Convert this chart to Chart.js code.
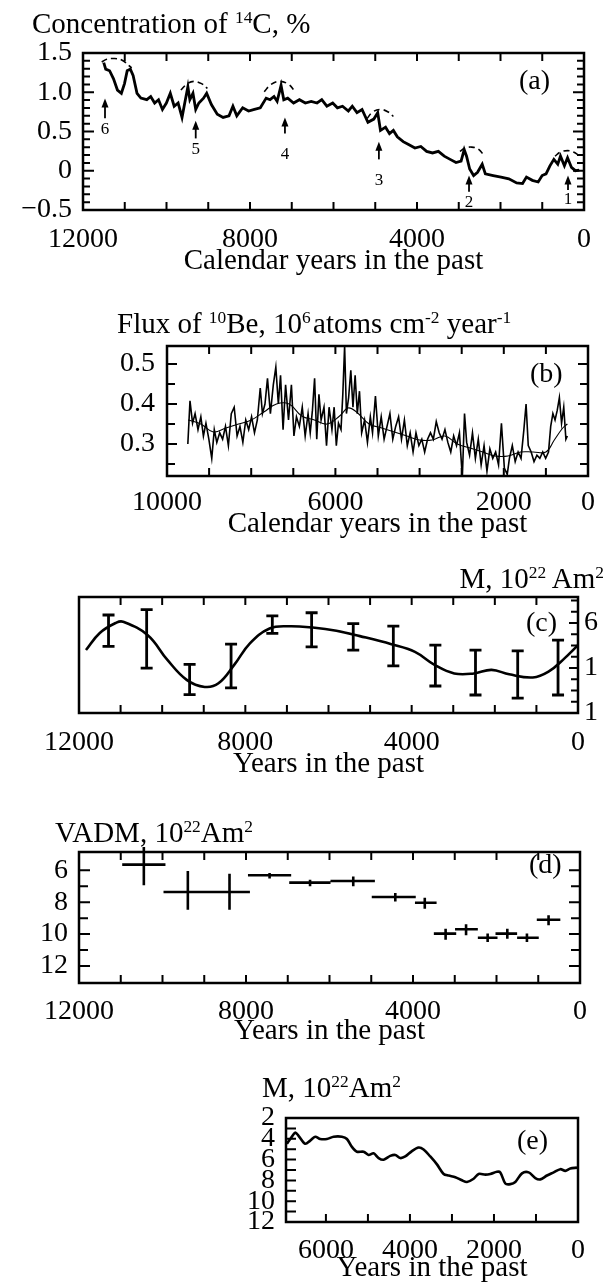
<!DOCTYPE html>
<html>
<head>
<meta charset="utf-8">
<title>14C, 10Be and geomagnetic moment</title>
<script src="https://cdn.jsdelivr.net/npm/chart.js@4.4.1/dist/chart.umd.min.js"></script>
<style>
  html, body { margin: 0; padding: 0; background: #fff; }
  body { position: relative; width: 614px; height: 1284px; overflow: hidden;
         font-family: "Liberation Serif", "Times New Roman", serif; color: #000; }
  canvas { position: absolute; left: 0; }
  .lbl { position: absolute; font-size: 28px; line-height: 1; white-space: nowrap; z-index: 2; }
  .ttl { font-size: 29px; }
  .lbl sup { font-size: 0.6em; line-height: 0; position: relative; top: -0.55em; vertical-align: baseline; }
</style>
</head>
<body>
<div class="lbl ttl" style="left:32px;top:9px">Concentration of <sup>14</sup>C, %</div>
<div class="lbl" style="left:519px;top:66px">(a)</div>
<div class="lbl ttl" style="left:117px;top:309px">Flux of <sup>10</sup>Be, 10<sup>6</sup>&#8202;atoms cm<sup>-2</sup> year<sup>-1</sup></div>
<div class="lbl" style="left:530px;top:359px">(b)</div>
<div class="lbl ttl" style="right:10px;top:564px">M, 10<sup>22</sup> Am<sup>2</sup></div>
<div class="lbl" style="left:526px;top:608px">(c)</div>
<div class="lbl ttl" style="left:55px;top:818px">VADM, 10<sup>22</sup>Am<sup>2</sup></div>
<div class="lbl" style="left:529px;top:850px">(d)</div>
<div class="lbl ttl" style="left:262px;top:1073px">M, 10<sup>22</sup>Am<sup>2</sup></div>
<div class="lbl" style="left:517px;top:1126px">(e)</div>

<canvas id="chartA" width="614" height="258" style="top:28px"></canvas>
<canvas id="chartB" width="614" height="220" style="top:320px"></canvas>
<canvas id="chartC" width="614" height="210" style="top:575px"></canvas>
<canvas id="chartD" width="614" height="225" style="top:825px"></canvas>
<canvas id="chartE" width="614" height="191" style="top:1093px"></canvas>

<script>
// (a) 14C concentration, %
const aYears = [11503, 11456, 11363, 11269, 11175, 11081, 11006, 10941, 10866, 10800, 10706, 10613, 10472, 10378,
  10284, 10191, 10097, 10003, 9909, 9816, 9722, 9628, 9563, 9488, 9441, 9366, 9300, 9225, 9113, 9038, 8925, 8784,
  8644, 8503, 8409, 8316, 8175, 8034, 7894, 7753, 7613, 7519, 7425, 7350, 7256, 7191, 7097, 6956, 6816, 6675, 6534,
  6394, 6281, 6159, 6019, 5906, 5784, 5644, 5550, 5438, 5316, 5175, 5034, 4941, 4875, 4753, 4659, 4566, 4472, 4331,
  4191, 4050, 3909, 3769, 3628, 3488, 3347, 3206, 3066, 2944, 2869, 2813, 2738, 2644, 2550, 2438, 2363, 2175, 1988,
  1800, 1613, 1472, 1378, 1238, 1097, 1003, 909, 816, 722, 628, 563, 469, 394, 300, 206, 113];
const aConc = [1.377, 1.295, 1.274, 1.171, 1.028, 0.987, 1.110, 1.274, 1.295, 1.213, 0.987, 0.925, 0.905, 0.946,
  0.863, 0.905, 0.781, 0.863, 0.987, 0.822, 0.863, 0.679, 0.863, 1.069, 0.905, 0.987, 0.781, 0.863, 0.925, 0.987,
  0.843, 0.720, 0.679, 0.699, 0.822, 0.699, 0.802, 0.761, 0.781, 0.802, 0.925, 0.905, 0.946, 0.884, 1.089, 0.905,
  0.925, 0.863, 0.905, 0.863, 0.884, 0.863, 0.905, 0.822, 0.863, 0.802, 0.822, 0.761, 0.822, 0.740, 0.781, 0.617,
  0.658, 0.740, 0.514, 0.555, 0.473, 0.514, 0.432, 0.371, 0.330, 0.289, 0.309, 0.247, 0.227, 0.247, 0.186, 0.145,
  0.104, 0.124, 0.268, 0.186, 0.022, -0.061, -0.020, 0.083, -0.040, -0.061, -0.081, -0.102, -0.155, -0.163, -0.081,
  -0.122, -0.143, -0.061, -0.040, 0.063, 0.145, 0.083, 0.186, 0.063, 0.165, 0.042, 0.001, 0.009];
// dashed arcs over the peaks 6..1
const aArcYears = [[11552, 11432, 11274, 11073, 10834], [9656, 9500, 9347, 9160, 9019], [7659, 7500, 7284, 7069, 6938],
  [5194, 5063, 4875, 4688, 4566], [2972, 2850, 2691, 2531, 2381], [694, 563, 394, 253, 131]];
const aArcConc = [[1.385, 1.42, 1.43, 1.41, 1.31], [1.028, 1.110, 1.139, 1.110, 1.048], [1.007, 1.098, 1.139, 1.098, 1.020],
  [0.666, 0.748, 0.781, 0.748, 0.691], [0.247, 0.289, 0.301, 0.276, 0.186], [0.186, 0.239, 0.256, 0.239, 0.198]];
// numbered arrows
const aArrowYears = [11473, 9300, 7163, 4913, 2754, 383];
const aArrowBase = [0.67, 0.412, 0.473, 0.145, -0.266, -0.245];
const aArrowTip = [0.92, 0.638, 0.679, 0.371, -0.061, -0.061];
const aArrowLabelAt = [0.52, 0.268, 0.206, -0.122, -0.40, -0.37];
const aArrowLabels = ['6', '5', '4', '3', '2', '1'];
const aXTicks = [12000, 8000, 4000, 0];
const aXText = ['12000', '8000', '4000', '0'];
const aYTicks = [-0.5, 0, 0.5, 1, 1.5];
const aYText = ['\u22120.5', '0', '0.5', '1.0', '1.5'];

// (b) 10Be flux
const bYears = [9505, 9454, 9393, 9333, 9264, 9196, 9135, 9075, 9006, 8937, 8877, 8817, 8748, 8679, 8611, 8542, 8473,
  8404, 8335, 8267, 8198, 8129, 8060, 7991, 7922, 7854, 7785, 7733, 7673, 7613, 7544, 7475, 7415, 7355, 7303, 7243,
  7183, 7114, 7045, 6985, 6925, 6856, 6787, 6718, 6649, 6598, 6546, 6494, 6443, 6391, 6340, 6271, 6211, 6150, 6082,
  6030, 5978, 5927, 5867, 5824, 5781, 5738, 5686, 5634, 5583, 5531, 5480, 5428, 5376, 5307, 5239, 5170, 5118, 5049,
  4981, 4912, 4843, 4774, 4705, 4637, 4568, 4499, 4430, 4361, 4292, 4224, 4155, 4086, 4017, 3948, 3880, 3811, 3742,
  3673, 3604, 3535, 3467, 3398, 3329, 3260, 3191, 3123, 3054, 2985, 2933, 2882, 2813, 2744, 2675, 2606, 2538, 2469,
  2400, 2331, 2262, 2194, 2125, 2056, 1987, 1918, 1867, 1798, 1729, 1660, 1591, 1523, 1471, 1419, 1350, 1282, 1213,
  1144, 1075, 1006, 938, 886, 834, 783, 731, 680, 628, 576, 525, 490];
const bFlux = [0.300, 0.408, 0.352, 0.376, 0.336, 0.368, 0.320, 0.352, 0.312, 0.264, 0.336, 0.304, 0.328, 0.312, 0.344,
  0.296, 0.376, 0.392, 0.320, 0.344, 0.304, 0.360, 0.336, 0.368, 0.328, 0.360, 0.440, 0.376, 0.400, 0.464, 0.376,
  0.448, 0.492, 0.400, 0.472, 0.336, 0.448, 0.360, 0.448, 0.320, 0.368, 0.344, 0.392, 0.320, 0.376, 0.328, 0.384,
  0.464, 0.312, 0.424, 0.360, 0.392, 0.296, 0.392, 0.336, 0.392, 0.296, 0.352, 0.336, 0.424, 0.545, 0.376, 0.416,
  0.484, 0.392, 0.472, 0.376, 0.432, 0.328, 0.360, 0.304, 0.368, 0.328, 0.420, 0.320, 0.368, 0.312, 0.344, 0.376,
  0.312, 0.344, 0.368, 0.312, 0.360, 0.296, 0.328, 0.280, 0.328, 0.296, 0.312, 0.280, 0.312, 0.328, 0.312, 0.356,
  0.328, 0.312, 0.336, 0.304, 0.280, 0.320, 0.296, 0.328, 0.216, 0.376, 0.304, 0.272, 0.328, 0.264, 0.312, 0.248,
  0.296, 0.232, 0.288, 0.264, 0.280, 0.248, 0.352, 0.240, 0.224, 0.264, 0.296, 0.256, 0.280, 0.264, 0.336, 0.400,
  0.296, 0.280, 0.256, 0.272, 0.264, 0.280, 0.264, 0.280, 0.344, 0.376, 0.360, 0.384, 0.416, 0.352, 0.392, 0.312,
  0.320];
const bSmoothYears = [9500, 9200, 8900, 8600, 8300, 8000, 7700, 7400, 7100, 6800, 6500, 6200, 5900, 5700, 5500, 5200,
  4900, 4600, 4300, 4000, 3700, 3400, 3100, 2800, 2500, 2200, 1900, 1600, 1300, 1000, 800, 600, 490];
const bSmoothFlux = [0.36, 0.35, 0.33, 0.34, 0.35, 0.36, 0.38, 0.40, 0.40, 0.37, 0.36, 0.35, 0.37, 0.39, 0.38, 0.35,
  0.34, 0.33, 0.32, 0.31, 0.31, 0.32, 0.30, 0.29, 0.28, 0.27, 0.27, 0.28, 0.28, 0.28, 0.31, 0.34, 0.35];
const bXTicks = [10000, 6000, 2000, 0];
const bXText = ['10000', '6000', '2000', '0'];
const bYTicks = [0.3, 0.4, 0.5];
const bYText = ['0.3', '0.4', '0.5'];

// (c) M, smoothed curve with error bars (right axis units)
const cYears = [11832, 11500, 11100, 10942, 10346, 9874, 9402, 8976, 8646, 8268, 7890, 7417, 6945, 6378, 5811, 5244,
  4488, 3921, 3449, 2976, 2504, 2079, 1654, 1087, 709, 331, 0];
const cMoment = [1.40, 1.78, 2.01, 2.03, 1.73, 1.18, 0.73, 0.58, 0.66, 1.07, 1.55, 1.88, 1.93, 1.90, 1.83, 1.71,
  1.53, 1.36, 1.07, 0.88, 0.88, 0.96, 0.86, 0.79, 0.92, 1.21, 1.51];
const cErrYears = [11290, 10373, 9340, 8343, 7351, 6406, 5405, 4441, 3430, 2465, 1450, 480];
const cErrHigh = [2.18, 2.30, 1.08, 1.53, 2.16, 2.23, 1.99, 1.93, 1.51, 1.40, 1.38, 1.62];
const cErrLow = [1.48, 1.00, 0.41, 0.56, 1.77, 1.47, 1.40, 1.05, 0.60, 0.40, 0.33, 0.40];
const cXTicks = [12000, 8000, 4000, 0];
const cXText = ['12000', '8000', '4000', '0'];
const cYTicks = [0, 1, 2];
const cYText = ['1', '1', '6'];

// (d) VADM crosses
const dYears = [10447, 9393, 8395, 7435, 6466, 5431, 4424, 3718, 3219, 2729, 2212, 1741, 1271, 753];
const dVadm = [5.64, 7.36, 7.36, 6.31, 6.77, 6.67, 7.67, 8.03, 9.97, 9.70, 10.23, 9.97, 10.23, 9.10];
const dYearFrom = [10965, 9976, 8894, 7953, 6965, 5976, 4988, 3953, 3501, 2993, 2447, 2024, 1506, 1035];
const dYearTo = [9929, 8894, 7906, 6918, 5976, 4913, 3934, 3435, 2965, 2447, 1976, 1506, 988, 471];
const dVadmLow = [4.54, 6.04, 6.21, 6.17, 6.59, 6.38, 7.42, 7.72, 9.66, 9.39, 9.97, 9.66, 9.97, 8.82];
const dVadmHigh = [6.94, 8.47, 8.47, 6.52, 7.00, 7.00, 7.95, 8.41, 10.35, 10.08, 10.50, 10.29, 10.50, 9.45];
const dXTicks = [12000, 8000, 4000, 0];
const dXText = ['12000', '8000', '4000', '0'];
const dYTicks = [6, 8, 10, 12];
const dYText = ['6', '8', '10', '12'];

// (e) M over the last 7000 years
const eYears = [6929, 6849, 6730, 6651, 6492, 6373, 6254, 6135, 5976, 5817, 5619, 5500, 5381, 5262, 5103, 4984, 4865,
  4746, 4627, 4468, 4349, 4230, 4111, 3952, 3794, 3675, 3516, 3357, 3198, 3079, 2921, 2762, 2643, 2484, 2365, 2206,
  2087, 1929, 1849, 1730, 1611, 1492, 1333, 1175, 1016, 897, 738, 579, 421, 302, 183, 24];
const eMoment = [4.48, 4.02, 3.41, 3.71, 4.48, 4.17, 3.80, 4.02, 4.02, 3.80, 3.80, 4.02, 4.78, 5.24, 5.24, 5.55, 5.40,
  5.85, 6.01, 5.64, 5.55, 5.85, 5.70, 5.18, 4.84, 5.03, 5.70, 6.46, 7.38, 7.54, 7.69, 7.99, 8.15, 7.84, 7.38, 7.44,
  7.38, 7.17, 7.23, 8.30, 8.36, 8.15, 7.32, 7.23, 7.78, 7.90, 7.53, 7.23, 6.92, 7.08, 6.86, 6.77];
const eXTicks = [6000, 4000, 2000, 0];
const eXText = ['6000', '4000', '2000', '0'];
const eYTicks = [2, 4, 6, 8, 10, 12];
const eYText = ['2', '4', '6', '8', '10', '12'];

const SERIF = "'Liberation Serif', 'Times New Roman', serif";
const FONT = { family: SERIF, size: 28, lineHeight: 1 };
const TITLE_FONT = { family: SERIF, size: 29, lineHeight: 1 };
Chart.defaults.font.family = SERIF;
Chart.defaults.color = '#000';

function pick(vals, texts) {
  return function (v) {
    const i = vals.findIndex(u => Math.abs(u - v) < 1e-6);
    return i < 0 ? '' : texts[i];
  };
}

// ticks on every multiple of step inside the axis range
function stepTicks(step) {
  return s => {
    const out = [];
    const k0 = Math.ceil(s.min / step - 1e-9), k1 = Math.floor(s.max / step + 1e-9);
    for (let k = k0; k <= k1; k++) out.push({ value: +(k * step).toFixed(6) });
    s.ticks = out;
  };
}

function pts(xs, ys) {
  return xs.map((x, i) => ({ x: x, y: ys[i] }));
}

function line(data, width, extra = {}) {
  return Object.assign({
    data, borderColor: '#000', borderWidth: width, pointRadius: 0, tension: 0, fill: false
  }, extra);
}

// box frame plus the inward tick marks on the chosen sides
const frameTicks = {
  id: 'frameTicks',
  afterDatasetsDraw(chart, args, o) {
    const { ctx, chartArea: a } = chart;
    const xs = chart.scales.x, ys = chart.scales.y;
    ctx.save();
    ctx.strokeStyle = '#000';
    ctx.lineWidth = 2;
    ctx.beginPath();
    xs.ticks.forEach(t => {
      if (t.value <= xs.min || t.value >= xs.max) return;
      const px = xs.getPixelForValue(t.value);
      if (o.bottom) { ctx.moveTo(px, a.bottom); ctx.lineTo(px, a.bottom - o.xLen); }
      if (o.top) { ctx.moveTo(px, a.top); ctx.lineTo(px, a.top + o.xLen); }
    });
    ys.ticks.forEach(t => {
      if (t.value <= ys.min || t.value >= ys.max) return;
      if (o.yFrom !== undefined && (t.value < o.yFrom || t.value > o.yTo)) return;
      const py = ys.getPixelForValue(t.value);
      const len = t.label ? o.yMajor : o.yMinor;
      if (o.left) { ctx.moveTo(a.left, py); ctx.lineTo(a.left + len, py); }
      if (o.right) { ctx.moveTo(a.right, py); ctx.lineTo(a.right - len, py); }
    });
    ctx.stroke();
    ctx.lineWidth = 2.5;
    ctx.strokeRect(a.left, a.top, a.width, a.height);
    ctx.restore();
  }
};

function arrowsPlugin() {
  return {
    id: 'arrows',
    afterDatasetsDraw(chart) {
      const { ctx } = chart;
      const xs = chart.scales.x, ys = chart.scales.y;
      ctx.save();
      ctx.strokeStyle = '#000';
      ctx.fillStyle = '#000';
      ctx.lineWidth = 1.8;
      ctx.font = '17px ' + SERIF;
      ctx.textAlign = 'center';
      ctx.textBaseline = 'middle';
      aArrowYears.forEach((yr, i) => {
        const px = xs.getPixelForValue(yr);
        const pb = ys.getPixelForValue(aArrowBase[i]);
        const pt = ys.getPixelForValue(aArrowTip[i]);
        ctx.beginPath();
        ctx.moveTo(px, pb);
        ctx.lineTo(px, pt + 6);
        ctx.stroke();
        ctx.beginPath();
        ctx.moveTo(px, pt);
        ctx.lineTo(px - 3.5, pt + 9);
        ctx.lineTo(px + 3.5, pt + 9);
        ctx.closePath();
        ctx.fill();
        ctx.fillText(aArrowLabels[i], px, ys.getPixelForValue(aArrowLabelAt[i]));
      });
      ctx.restore();
    }
  };
}

function errorBarsPlugin() {
  return {
    id: 'errorBars',
    afterDatasetsDraw(chart) {
      const { ctx } = chart;
      const xs = chart.scales.x, ys = chart.scales.y;
      const cap = 6;
      ctx.save();
      ctx.strokeStyle = '#000';
      ctx.lineWidth = 2.8;
      ctx.beginPath();
      cErrYears.forEach((yr, i) => {
        const px = xs.getPixelForValue(yr);
        const lo = ys.getPixelForValue(cErrLow[i]);
        const hi = ys.getPixelForValue(cErrHigh[i]);
        ctx.moveTo(px, lo); ctx.lineTo(px, hi);
        ctx.moveTo(px - cap, lo); ctx.lineTo(px + cap, lo);
        ctx.moveTo(px - cap, hi); ctx.lineTo(px + cap, hi);
      });
      ctx.stroke();
      ctx.restore();
    }
  };
}

function crossesPlugin() {
  return {
    id: 'crosses',
    afterDatasetsDraw(chart) {
      const { ctx } = chart;
      const xs = chart.scales.x, ys = chart.scales.y;
      ctx.save();
      ctx.strokeStyle = '#000';
      ctx.lineWidth = 2.6;
      ctx.beginPath();
      dYears.forEach((yr, i) => {
        const py = ys.getPixelForValue(dVadm[i]);
        const px = xs.getPixelForValue(yr);
        ctx.moveTo(xs.getPixelForValue(dYearFrom[i]), py);
        ctx.lineTo(xs.getPixelForValue(dYearTo[i]), py);
        ctx.moveTo(px, ys.getPixelForValue(dVadmLow[i]));
        ctx.lineTo(px, ys.getPixelForValue(dVadmHigh[i]));
      });
      ctx.stroke();
      ctx.restore();
    }
  };
}

function panel(id, cfg) {
  const x = {
    type: 'linear', reverse: true, min: 0, max: cfg.xMax,
    grid: { display: false, drawTicks: false }, border: { display: false },
    afterBuildTicks: stepTicks(1000),
    afterFit: s => { s.height = cfg.xH; },
    ticks: {
      autoSkip: false, maxRotation: 0,
      padding: cfg.xPad, font: FONT, color: '#000', callback: pick(cfg.xVals, cfg.xText)
    },
    title: { display: true, text: cfg.xTitle, font: TITLE_FONT, color: '#000', padding: { top: 0, bottom: cfg.titlePad } }
  };
  const y = {
    type: 'linear', position: cfg.yPos || 'left', reverse: !!cfg.yRev, min: cfg.yMin, max: cfg.yMax,
    grid: { display: false, drawTicks: false }, border: { display: false },
    afterBuildTicks: stepTicks(cfg.yStep),
    afterFit: s => { s.width = cfg.yW; },
    ticks: {
      autoSkip: false,
      padding: cfg.yPad, font: FONT, color: '#000', callback: pick(cfg.yVals, cfg.yText)
    }
  };
  return new Chart(document.getElementById(id), {
    type: 'line',
    data: { datasets: cfg.datasets },
    options: {
      responsive: false,
      animation: false,
      events: [],
      layout: { padding: cfg.pad },
      plugins: { legend: { display: false }, tooltip: { enabled: false }, frameTicks: cfg.ticks },
      scales: { x, y }
    },
    plugins: [frameTicks].concat(cfg.plugins || [])
  });
}

// (a)
panel('chartA', {
  datasets: [line(pts(aYears, aConc), 2.8)].concat(
    aArcYears.map((ys, i) => line(pts(ys, aArcConc[i]), 1.6, { tension: 0.4, borderDash: [6, 4] }))),
  xMax: 12000, xVals: aXTicks, xText: aXText, xTitle: 'Calendar years in the past',
  xH: 76, xPad: 16, titlePad: 10,
  yMin: -0.5, yMax: 1.5, yStep: 0.1, yVals: aYTicks, yText: aYText, yW: 83, yPad: 11,
  pad: { top: 20, left: 0, right: 30, bottom: 0 },
  ticks: { top: true, bottom: true, left: true, right: true, xLen: 8, yMajor: 11, yMinor: 7 },
  plugins: [arrowsPlugin()]
});

// (b)
panel('chartB', {
  datasets: [line(pts(bYears, bFlux), 1.6), line(pts(bSmoothYears, bSmoothFlux), 1.1, { tension: 0.4 })],
  xMax: 10000, xVals: bXTicks, xText: bXText, xTitle: 'Calendar years in the past',
  xH: 64, xPad: 13, titlePad: 1,
  yMin: 0.22, yMax: 0.545, yStep: 0.05, yVals: bYTicks, yText: bYText, yW: 167, yPad: 12,
  pad: { top: 23, left: 0, right: 26, bottom: 0 },
  ticks: { top: true, bottom: true, left: true, right: true, xLen: 8, yMajor: 10, yMinor: 8 }
});

// (c)
panel('chartC', {
  datasets: [line(pts(cYears, cMoment), 2.6, { tension: 0.4 })],
  xMax: 12000, xVals: cXTicks, xText: cXText, xTitle: 'Years in the past',
  xH: 72, xPad: 16, titlePad: 6,
  yPos: 'right', yMin: 0, yMax: 2.58, yStep: 0.25, yVals: cYTicks, yText: cYText, yW: 36, yPad: 6,
  pad: { top: 22, left: 79, right: 0, bottom: 0 },
  ticks: { top: true, bottom: true, right: true, xLen: 8, yMajor: 9, yMinor: 7 },
  plugins: [errorBarsPlugin()]
});

// (d)
panel('chartD', {
  datasets: [],
  xMax: 12000, xVals: dXTicks, xText: dXText, xTitle: 'Years in the past',
  xH: 67, xPad: 15, titlePad: 4,
  yRev: true, yMin: 4.85, yMax: 13.07, yStep: 1, yVals: dYTicks, yText: dYText, yW: 79, yPad: 11,
  pad: { top: 27, left: 0, right: 34, bottom: 0 },
  ticks: { top: true, bottom: true, left: true, right: true, xLen: 8, yMajor: 11, yMinor: 9, yFrom: 6, yTo: 12 },
  plugins: [crossesPlugin()]
});

// (e)
panel('chartE', {
  datasets: [line(pts(eYears, eMoment), 2.6, { tension: 0.3 })],
  xMax: 6950, xVals: eXTicks, xText: eXText, xTitle: 'Years in the past',
  xH: 62, xPad: 15, titlePad: 1,
  yRev: true, yMin: 2, yMax: 12, yStep: 1, yVals: eYTicks, yText: eYText, yW: 286, yPad: 11,
  pad: { top: 20, left: 0, right: 36, bottom: 0 },
  ticks: { bottom: true, left: true, xLen: 8, yMajor: 10, yMinor: 10 }
});
</script>
</body>
</html>
